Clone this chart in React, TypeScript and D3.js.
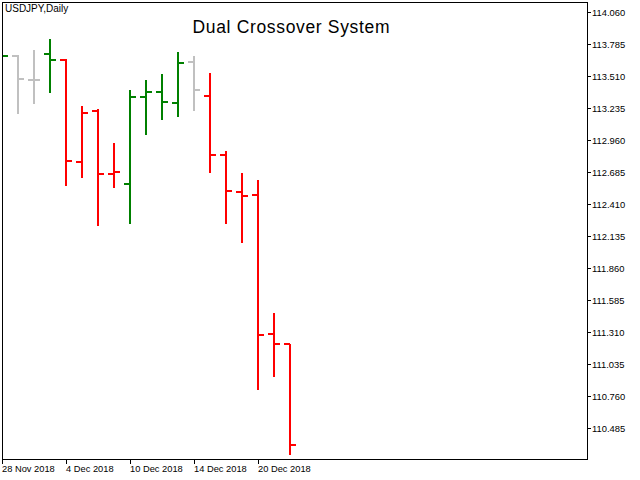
import * as d3 from "d3";

const dates = [
  "28 Nov", "29 Nov", "30 Nov", "3 Dec", "4 Dec", "5 Dec", "6 Dec", "7 Dec",
  "10 Dec", "11 Dec", "12 Dec", "13 Dec", "14 Dec", "17 Dec", "18 Dec",
  "19 Dec", "20 Dec", "21 Dec", "24 Dec",
];
const opens = [
  113.62, 113.684, 113.476, 113.702, 113.65, 112.771, 113.207, 112.67,
  112.582, 113.33, 113.375, 113.281, 113.63, 113.341, 112.831, 112.513,
  112.487, 111.295, 111.209,
];
const highs = [
  113.75, 113.69, 113.733, 113.828, 113.659, 113.25, 113.224, 112.932,
  113.387, 113.473, 113.527, 113.714, 113.679, 113.536, 112.863, 112.674,
  112.616, 111.471, 111.209,
];
const lows = [
  113.58, 113.189, 113.281, 113.375, 112.576, 112.645, 112.232, 112.554,
  112.244, 113.009, 113.138, 113.169, 113.215, 112.681, 112.249, 112.086,
  110.818, 110.934, 110.264,
];
const closes = [
  113.684, 113.484, 113.476, 113.65, 112.78, 113.195, 112.668, 112.688,
  113.33, 113.375, 113.289, 113.622, 113.392, 112.831, 112.522, 112.479,
  111.287, 111.209, 110.341,
];
// signal state of the indicator: 1 up, -1 down, 0 flat
const signals = [1, 0, 0, 1, -1, -1, -1, -1, 1, 1, 1, 1, 0, -1, -1, -1, -1, -1, -1];

const priceTicks = [
  114.06, 113.785, 113.51, 113.235, 112.96, 112.685, 112.41, 112.135,
  111.86, 111.585, 111.31, 111.035, 110.76, 110.485,
];
const dateTicks = ["28 Nov", "4 Dec", "10 Dec", "14 Dec", "20 Dec"];

const W = 640;
const H = 480;
const left = 2;
const top = 2;
const right = 587;
const bottom = 459;
const barStep = 16;
const font = "'Liberation Sans', Arial, sans-serif";

const colorOf = (s: number) => (s > 0 ? "#008000" : s < 0 ? "#ff0000" : "#c0c0c0");

export default function App() {
  const x = d3
    .scalePoint<string>()
    .domain(dates)
    .range([left, left + barStep * (dates.length - 1)]);
  const y = d3.scaleLinear().domain([110.218, 114.146]).range([bottom, top]);

  return (
    <div style={{ position: "absolute", left: 0, top: 0, background: "#fff" }}>
      <svg width={W} height={H} style={{ display: "block" }} fontFamily={font}>
        <rect width={W} height={H} fill="#fff" />
        <defs>
          <clipPath id="plot">
            <rect x={left + 1} y={top} width={right - left - 1} height={bottom - top} />
          </clipPath>
        </defs>

        <g clipPath="url(#plot)" strokeWidth={2} shapeRendering="crispEdges">
          {dates.map((d, i) => {
            const cx = x(d)!;
            const c = colorOf(signals[i]);
            return (
              <g key={d} stroke={c}>
                <line x1={cx} x2={cx} y1={y(highs[i])} y2={y(lows[i]) + 1} />
                <line x1={cx - 6} x2={cx} y1={y(opens[i])} y2={y(opens[i])} />
                <line x1={cx} x2={cx + 6} y1={y(closes[i])} y2={y(closes[i])} />
              </g>
            );
          })}
        </g>

        <rect
          x={left + 0.5}
          y={top + 0.5}
          width={right - left}
          height={bottom - top}
          fill="none"
          stroke="#000"
          strokeWidth={1}
        />

        {priceTicks.map((p) => {
          const py = Math.round(y(p)) + 0.5;
          return (
            <g key={p}>
              <line x1={right + 0.5} x2={right + 4} y1={py} y2={py} stroke="#000" />
              <text x={right + 5} y={py + 3.5} fontSize={9.4} fill="#000">
                {p.toFixed(3)}
              </text>
            </g>
          );
        })}

        {dateTicks.map((d) => {
          const px = Math.round(x(d)!) + 0.5;
          return (
            <g key={d}>
              <line x1={px} x2={px} y1={bottom + 0.5} y2={bottom + 5} stroke="#000" />
              <text x={px - 0.5} y={471.5} fontSize={9.3} fill="#000">
                {d} 2018
              </text>
            </g>
          );
        })}

        <text x={5} y={12} fontSize={10} fill="#000">
          USDJPY,Daily
        </text>
        <text
          x={291}
          y={33}
          fontSize={17.5}
          textAnchor="middle"
          fill="#000"
          textLength={197}
          lengthAdjust="spacing"
        >
          Dual Crossover System
        </text>
      </svg>
    </div>
  );
}
